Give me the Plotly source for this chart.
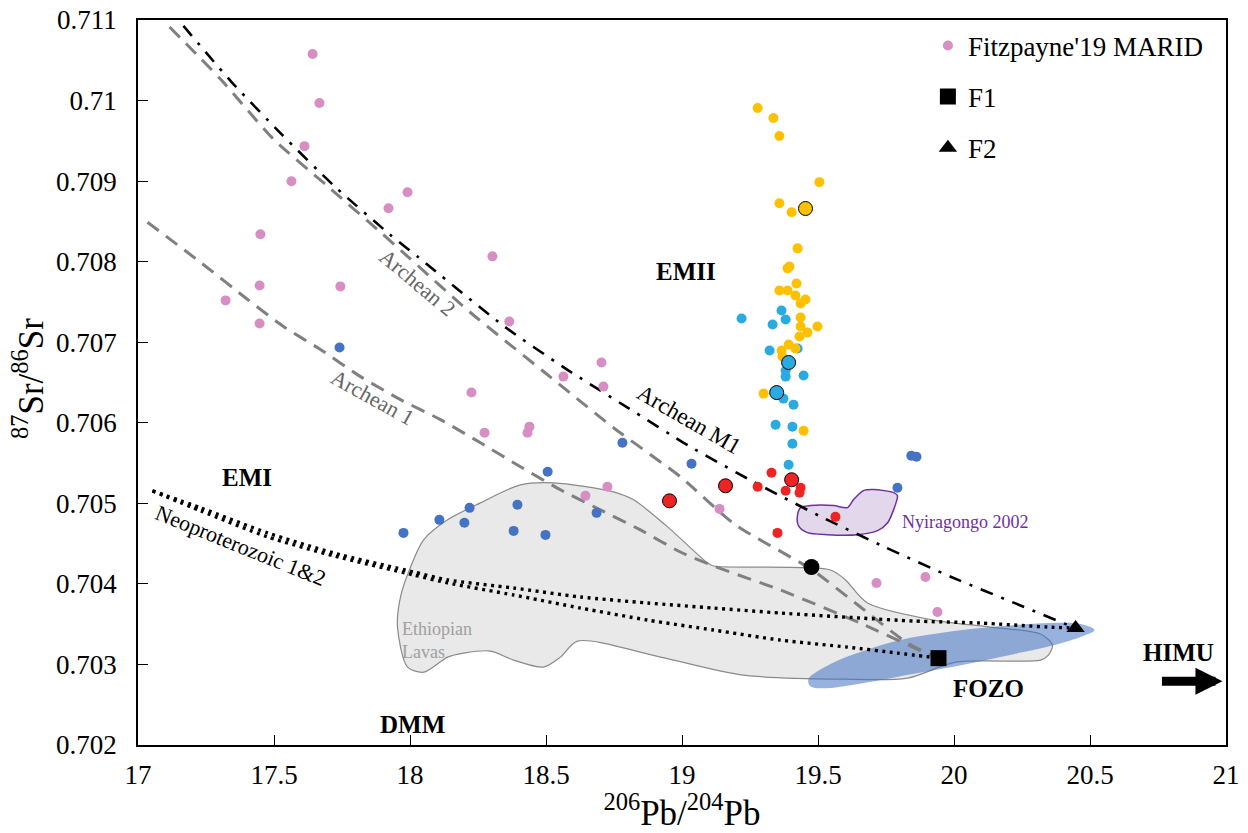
import plotly.graph_objects as go

FONT = "Liberation Serif"

# ---------------- data ----------------
pink_x = [17.642, 17.667, 17.612, 17.564, 17.991, 17.921, 17.450, 17.447, 17.744, 17.322,
          17.447, 18.303, 18.365, 18.704, 18.564, 18.711, 18.226, 18.274, 18.439, 18.432,
          18.726, 18.645, 19.138, 19.715, 19.895, 19.939]
pink_y = [0.710578, 0.709969, 0.709434, 0.708999, 0.708862, 0.708663, 0.708340, 0.707705, 0.707693, 0.707519,
          0.707233, 0.708066, 0.707257, 0.706748, 0.706573, 0.706449, 0.706375, 0.705877, 0.705952, 0.705877,
          0.705205, 0.705093, 0.704931, 0.704010, 0.704085, 0.703650]

blue_x = [17.741, 18.781, 19.035, 18.506, 18.395, 18.219, 18.108, 18.200, 17.976, 18.381,
          18.498, 18.686, 19.843, 19.862, 19.792]
blue_y = [0.706934, 0.705752, 0.705491, 0.705393, 0.704982, 0.704944, 0.704795, 0.704758, 0.704633, 0.704658,
          0.704608, 0.704882, 0.705591, 0.705578, 0.705193]

cyan_x = [19.219, 19.366, 19.381, 19.333, 19.322, 19.425, 19.381, 19.381, 19.447, 19.373,
          19.410, 19.344, 19.406, 19.406, 19.392]
cyan_y = [0.707295, 0.707394, 0.707282, 0.707220, 0.706897, 0.706922, 0.706648, 0.706573, 0.706586, 0.706300,
          0.706225, 0.705976, 0.705951, 0.705740, 0.705479]
cyan_big_x = [19.392, 19.348]
cyan_big_y = [0.706748, 0.706375]

yellow_x = [19.278, 19.336, 19.358, 19.505, 19.358, 19.403, 19.425, 19.395, 19.388, 19.421,
            19.358, 19.388, 19.417, 19.454, 19.436, 19.436, 19.436, 19.498, 19.461, 19.432,
            19.392, 19.366, 19.417, 19.369, 19.300, 19.447]
yellow_y = [0.709907, 0.709783, 0.709559, 0.708987, 0.708725, 0.708613, 0.708165, 0.707941, 0.707917, 0.707730,
            0.707643, 0.707643, 0.707581, 0.707531, 0.707481, 0.707307, 0.707195, 0.707195, 0.707121, 0.707071,
            0.706971, 0.706897, 0.706922, 0.706822, 0.706362, 0.705902]
yellow_big_x = [19.454]
yellow_big_y = [0.708660]

red_x = [19.329, 19.278, 19.381, 19.436, 19.432, 19.564, 19.351]
red_y = [0.705379, 0.705205, 0.705156, 0.705193, 0.705131, 0.704832, 0.704633]
red_big_x = [18.954, 19.160, 19.403]
red_big_y = [0.705031, 0.705218, 0.705293]

black_x = [19.476]
black_y = [0.704210]

f1_x = [19.943]
f1_y = [0.703078]
f2_x = [20.447]
f2_y = [0.703451]

# mixing curves
m1_x = [17.167, 17.344, 17.531, 17.722, 17.925, 18.031, 18.347, 18.572, 18.800, 19.024,
        19.263, 19.505, 19.744, 19.990, 20.240, 20.447]
m1_y = [0.710927, 0.710230, 0.709571, 0.708937, 0.708340, 0.708054, 0.707195, 0.706673, 0.706188, 0.705715,
        0.705267, 0.704844, 0.704460, 0.704086, 0.703738, 0.703451]

a2_x = [17.116, 17.303, 17.498, 17.697, 17.892, 17.991, 18.222, 18.491, 18.748, 18.994,
        19.196, 19.476, 19.656, 19.829, 19.943]
a2_y = [0.710914, 0.710267, 0.709521, 0.708937, 0.708364, 0.708066, 0.707369, 0.706636, 0.705939, 0.705330,
        0.704733, 0.704180, 0.703713, 0.703265, 0.703078]

a1_x = [17.035, 17.230, 17.403, 17.535, 17.671, 17.818, 17.965, 18.112, 18.259, 18.406,
        18.553, 18.700, 18.847, 18.994, 19.116, 19.362, 19.656, 19.888, 19.943]
a1_y = [0.708489, 0.707991, 0.707531, 0.707195, 0.706909, 0.706573, 0.706287, 0.706039, 0.705752, 0.705454,
        0.705168, 0.704919, 0.704670, 0.704396, 0.704222, 0.703924, 0.703513, 0.703153, 0.703078]

neo2_x = [17.053, 17.230, 17.476, 17.719, 18.013, 18.138, 18.381, 18.627, 18.873, 19.116,
          19.362, 19.656, 19.851, 20.097, 20.344, 20.447]
neo2_y = [0.705155, 0.704944, 0.704633, 0.704384, 0.704148, 0.704049, 0.703949, 0.703837, 0.703763, 0.703700,
          0.703638, 0.703576, 0.703539, 0.703514, 0.703464, 0.703451]

neo1_x = [17.053, 17.230, 17.476, 17.719, 18.013, 18.138, 18.381, 18.627, 18.873, 19.116,
          19.362, 19.608, 19.792, 19.943]
neo1_y = [0.705155, 0.704907, 0.704584, 0.704348, 0.704111, 0.704012, 0.703862, 0.703700, 0.703551, 0.703427,
          0.703302, 0.703215, 0.703141, 0.703078]

# fields
eth_x = [18.050, 18.138, 18.259, 18.406, 18.528, 18.748, 18.822, 18.947, 19.094, 19.116,
         19.546, 19.601, 19.682, 19.925, 20.134, 20.318, 20.362, 20.347, 20.318, 20.006,
         19.829, 19.594, 19.226, 18.921, 18.616, 18.553, 18.491, 18.381, 18.296, 18.197,
         18.138, 18.050, 17.991, 17.954, 17.965, 18.002, 18.050]
eth_y = [0.704546, 0.704795, 0.705006, 0.705230, 0.705255, 0.705143, 0.705044, 0.704708, 0.704260, 0.704222,
         0.704173, 0.704049, 0.703763, 0.703551, 0.703464, 0.703377, 0.703240, 0.703116, 0.703054, 0.703029,
         0.702830, 0.702817, 0.702867, 0.703091, 0.703290, 0.703091, 0.702967, 0.703054, 0.703166, 0.703141,
         0.703091, 0.702904, 0.702967, 0.703464, 0.703837, 0.704210, 0.704546]

fozo_x = [19.465, 19.546, 19.656, 19.803, 19.950, 20.097, 20.226, 20.355, 20.465, 20.517,
          20.465, 20.355, 20.219, 20.097, 19.950, 19.767, 19.619, 19.528, 19.472, 19.465]
fozo_y = [0.702817, 0.703004, 0.703153, 0.703302, 0.703389, 0.703451, 0.703489, 0.703514, 0.703501, 0.703427,
          0.703340, 0.703228, 0.703128, 0.703041, 0.702942, 0.702830, 0.702743, 0.702705, 0.702730, 0.702817]

nyi_x = [19.425, 19.436, 19.472, 19.557, 19.608, 19.631, 19.667, 19.704, 19.778, 19.792,
         19.778, 19.756, 19.719, 19.645, 19.535, 19.461, 19.428, 19.425]
nyi_y = [0.704860, 0.704947, 0.704972, 0.704972, 0.704947, 0.705047, 0.705158, 0.705171, 0.705133, 0.705096,
         0.704922, 0.704760, 0.704661, 0.704611, 0.704611, 0.704636, 0.704723, 0.704860]

x_ticks = [17, 17.5, 18, 18.5, 19, 19.5, 20, 20.5, 21]
x_ticklabels = ["17", "17.5", "18", "18.5", "19", "19.5", "20", "20.5", "21"]
y_ticks = [0.702, 0.703, 0.704, 0.705, 0.706, 0.707, 0.708, 0.709, 0.710, 0.711]
y_ticklabels = ["0.702", "0.703", "0.704", "0.705", "0.706", "0.707", "0.708", "0.709", "0.71", "0.711"]

# ---------------- figure ----------------
fig = go.Figure()

def area(x, y, fill, line_color, line_width, smoothing=0.8):
    fig.add_trace(go.Scatter(x=x, y=y, mode="lines", fill="toself", fillcolor=fill,
                             line=dict(color=line_color, width=line_width, shape="spline", smoothing=smoothing),
                             hoverinfo="skip", showlegend=False))

area(eth_x, eth_y, "#E8E9E8", "#8A8A8A", 1.2)
area(fozo_x, fozo_y, "rgba(68,114,196,0.55)", "rgba(0,0,0,0)", 0, smoothing=1.0)
area(nyi_x, nyi_y, "#E2D7EB", "#7030A0", 1.5)

def curve(x, y, color, width, dash):
    fig.add_trace(go.Scatter(x=x, y=y, mode="lines",
                             line=dict(color=color, width=width, dash=dash, shape="spline", smoothing=0.6),
                             hoverinfo="skip", showlegend=False))

curve(a1_x, a1_y, "#808080", 3, "14px,9px")
curve(a2_x, a2_y, "#808080", 3, "14px,9px")
curve(m1_x, m1_y, "#000000", 2.6, "13px,9px,3px,9px")
curve(neo1_x, neo1_y, "#000000", 3.4, "3px,4.5px")
curve(neo2_x, neo2_y, "#000000", 3.4, "3px,4.5px")

def pts(x, y, color, size, outline=None, name=None, legend=False, symbol="circle", group=None):
    fig.add_trace(go.Scatter(x=x, y=y, mode="markers", name=name, showlegend=legend,
                             legendgroup=group,
                             marker=dict(color=color, size=size, symbol=symbol,
                                         line=dict(color=outline or color, width=1 if outline else 0)),
                             hoverinfo="skip"))

pts(pink_x, pink_y, "#D68EC3", 10, name="Fitzpayne'19 MARID", legend=True, group="g1")
pts(blue_x, blue_y, "#4472C4", 10)
pts(cyan_x, cyan_y, "#29ABE2", 10)
pts(yellow_x, yellow_y, "#FFC000", 10)
pts(red_x, red_y, "#EE2424", 10)
pts(red_big_x, red_big_y, "#EE2424", 14, outline="#000000")
pts(cyan_big_x, cyan_big_y, "#29ABE2", 14, outline="#000000")
pts(yellow_big_x, yellow_big_y, "#FFC000", 14, outline="#000000")
pts(black_x, black_y, "#000000", 16)
pts(f1_x, f1_y, "#000000", 16, name="F1", legend=True, symbol="square", group="g2")
pts(f2_x, f2_y, "#000000", 16, name="F2", legend=True, symbol="triangle-up", group="g3")

def label(text, x, y, size=23, color="#000000", bold=False, angle=0, xanchor="center", align="center"):
    if bold:
        text = "<b>" + text + "</b>"
    fig.add_annotation(x=x, y=y, xref="x", yref="y", text=text, showarrow=False,
                       textangle=angle, xanchor=xanchor, align=align,
                       font=dict(family=FONT, size=size, color=color))

label("EMII", 19.013, 0.707879, size=25, bold=True)
label("EMI", 17.399, 0.705315, size=25, bold=True)
label("DMM", 18.009, 0.702255, size=25, bold=True)
label("FOZO", 20.127, 0.702700, size=25, bold=True)
label("HIMU", 20.825, 0.703150, size=25, bold=True)
label("Ethiopian<br>Lavas", 17.965, 0.703300, size=18, color="#A0A0A0", xanchor="left", align="left")
label("Nyiragongo 2002", 20.042, 0.704767, size=18, color="#7030A0")
label("Archean 2", 18.027, 0.707740, size=22, color="#666666", angle=40)
label("Archean 1", 17.862, 0.706310, size=22, color="#666666", angle=29)
label("Archean M1", 19.024, 0.706036, size=23, color="#000000", angle=30)
label("Neoproterozoic 1&2", 17.377, 0.704481, size=22, color="#000000", angle=22)

# y-axis title (placed as a paper annotation to match the reference position)
fig.add_annotation(x=-0.100, y=0.505, xref="paper", yref="paper", text="<sup>87</sup>Sr/<sup>86</sup>Sr",
                   showarrow=False, textangle=-90, xanchor="center", yanchor="middle",
                   font=dict(family=FONT, size=35, color="#000000"))

# HIMU arrow
fig.add_annotation(x=20.987, y=0.702790, ax=20.759, ay=0.702790, xref="x", yref="y",
                   axref="x", ayref="y", text="", showarrow=True,
                   arrowhead=2, arrowsize=0.6, arrowwidth=9, arrowcolor="#000000")

fig.update_layout(
    width=1248, height=833,
    margin=dict(l=138, r=22, t=20, b=88, autoexpand=False),
    paper_bgcolor="white", plot_bgcolor="white",
    font=dict(family=FONT, size=26, color="#000000"),
    showlegend=True,
    legend=dict(x=0.726, y=0.998, xanchor="left", yanchor="top",
                font=dict(family=FONT, size=27, color="#000000"),
                bgcolor="rgba(0,0,0,0)", traceorder="grouped", tracegroupgap=13,
                itemsizing="trace"),
    xaxis=dict(range=[17, 21], tickvals=x_ticks, ticktext=x_ticklabels, automargin=False,
               showgrid=False, zeroline=False, showline=True, linecolor="#000000", linewidth=1.5,
               mirror=True, ticks="inside", ticklen=10, tickcolor="#000000", tickwidth=1.2,
               tickfont=dict(family=FONT, size=27), ticklabelstandoff=5,
               title=dict(text="<sup>206</sup>Pb/<sup>204</sup>Pb", font=dict(family=FONT, size=35), standoff=8)),
    yaxis=dict(range=[0.702, 0.711], tickvals=y_ticks, ticktext=y_ticklabels, automargin=False,
               showgrid=False, zeroline=False, showline=True, linecolor="#000000", linewidth=1.5,
               mirror=True, ticks="inside", ticklen=10, tickcolor="#000000", tickwidth=1.2,
               tickfont=dict(family=FONT, size=27), ticklabelstandoff=14),
)

fig.write_html("out.html", config={"displayModeBar": False},
               post_script="document.body.style.margin='0';")
